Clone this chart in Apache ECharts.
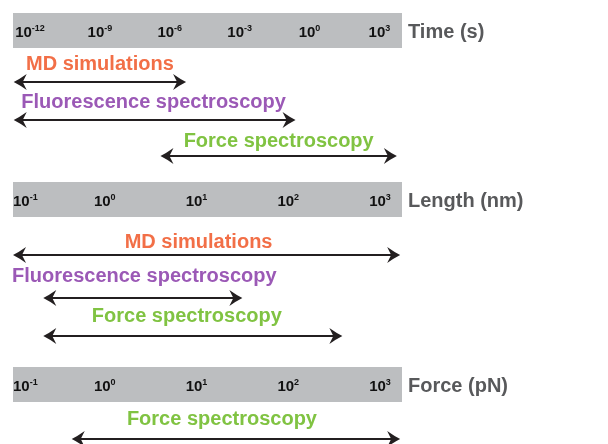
<!DOCTYPE html>
<html>
<head>
<meta charset="utf-8">
<script src="https://cdn.jsdelivr.net/npm/echarts@6/dist/echarts.min.js"></script>
<style>
  html, body { margin: 0; padding: 0; background: #fff; }
  #chart { width: 608px; height: 444px; }
</style>
</head>
<body>
<div id="chart"></div>
<script>
// Experimental techniques and the scales they reach (values are log10 of the quantity)
const methods = ['MD simulations', 'Fluorescence spectroscopy', 'Force spectroscopy'];
const methodColors = ['#f26f47', '#9b59b6', '#80c342'];

const timeTicks = [-12, -9, -6, -3, 0, 3];          // log10 s
const lengthTicks = [-1, 0, 1, 2, 3];               // log10 nm
const forceTicks = [-1, 0, 1, 2, 3];                // log10 pN

const timeRanges = [[-12.7, -5.3], [-12.7, -0.6], [-6.4, 3.75]];
const lengthRanges = [[-1, 3.22], [-0.67, 1.5], [-0.67, 2.59]];
const forceRanges = [[-0.36, 3.22]];

// Panel layout (pixel offsets below each scale bar's top edge)
const panels = [
  { name: 'Time (s)', top: 13, height: 155, min: -12.73, max: 3.97, ticks: timeTicks,
    ranges: timeRanges, methodIdx: [0, 1, 2],
    arrowY: [69, 107, 143], labelY: [51, 89, 128], labelDx: [0, -1, 0], minAlign: null },
  { name: 'Length (nm)', top: 182, height: 165, min: -1, max: 3.24, ticks: lengthTicks,
    ranges: lengthRanges, methodIdx: [0, 1, 2],
    arrowY: [73, 116, 154], labelY: [60, 94, 134], labelDx: [-8, 1.5, -6], minAlign: 'left' },
  { name: 'Force (pN)', top: 367, height: 77, min: -1, max: 3.24, ticks: forceTicks,
    ranges: forceRanges, methodIdx: [2],
    arrowY: [72], labelY: [52], labelDx: [-14], minAlign: 'left' }
];

const BAR_H = 35;
const FONT = '"Liberation Sans", Arial, Helvetica, sans-serif';
const INK = '#231f20';

function headPath(x, y, dir) {
  // barbed arrow head, tip at (x, y); dir = 1 points right, -1 points left
  const L = 13, W = 8, N = 9;
  const bx = x - dir * L, nx = x - dir * N, cx = x - dir * 6;
  return 'M' + x + ' ' + y +
    ' Q' + cx + ' ' + (y - 3) + ' ' + bx + ' ' + (y - W) +
    ' L' + nx + ' ' + y +
    ' L' + bx + ' ' + (y + W) +
    ' Q' + cx + ' ' + (y + 3) + ' ' + x + ' ' + y + ' Z';
}

function renderRange(params, api) {
  const a = api.coord([api.value(0), api.value(2)]);
  const b = api.coord([api.value(1), api.value(2)]);
  const ly = api.coord([api.value(0), api.value(3)])[1];
  const idx = api.value(5);
  const y = a[1];
  return {
    type: 'group',
    children: [
      { type: 'line', shape: { x1: a[0] + 8, y1: y, x2: b[0] - 8, y2: y },
        style: { stroke: INK, lineWidth: 2 } },
      { type: 'path', shape: { pathData: headPath(a[0], y, -1) }, style: { fill: INK } },
      { type: 'path', shape: { pathData: headPath(b[0], y, 1) }, style: { fill: INK } },
      { type: 'text', x: (a[0] + b[0]) / 2 + api.value(4), y: ly,
        style: { text: methods[idx], fill: methodColors[idx], font: 'bold 20px ' + FONT,
                 align: 'center', verticalAlign: 'middle' } }
    ]
  };
}

const grids = [], xAxes = [], yAxes = [], series = [];
panels.forEach((p, k) => {
  grids.push({ left: 13, right: 206, top: p.top, height: p.height });
  xAxes.push({
    type: 'value', gridIndex: k, position: 'top', min: p.min, max: p.max, z: 10,
    name: p.name, nameLocation: 'end', nameGap: 6, nameMoveOverlap: false,
    nameTextStyle: { fontFamily: FONT, fontSize: 20, fontWeight: 'bold', color: '#58595b',
                     align: 'left', verticalAlign: 'top', padding: [9, 0, 0, 0] },
    axisLine: { show: false }, axisTick: { show: false }, splitLine: { show: false },
    axisLabel: {
      inside: true, margin: 11, customValues: p.ticks,
      alignMinLabel: p.minAlign || undefined,
      formatter: v => '{b|10}{s|' + v + '}',
      rich: {
        b: { fontFamily: FONT, fontSize: 15, fontWeight: 'bold', color: '#111', lineHeight: 18 },
        s: { fontFamily: FONT, fontSize: 9, fontWeight: 'bold', color: '#111',
             verticalAlign: 'top', lineHeight: 10 }
      }
    }
  });
  yAxes.push({ type: 'value', gridIndex: k, min: 0, max: p.height, inverse: true, show: false });
  series.push({
    type: 'custom', xAxisIndex: k, yAxisIndex: k, clip: false, silent: true,
    renderItem: renderRange,
    data: p.ranges.map((r, i) => [r[0], r[1], p.arrowY[i], p.labelY[i], p.labelDx[i], p.methodIdx[i]]),
    markArea: {
      silent: true,
      itemStyle: { color: '#bcbec0' },
      data: [[{ yAxis: 0 }, { yAxis: BAR_H }]]
    }
  });
});

const chart = echarts.init(document.getElementById('chart'), null, { renderer: 'canvas' });
chart.setOption({
  animation: false,
  backgroundColor: '#fff',
  grid: grids, xAxis: xAxes, yAxis: yAxes, series: series
});
</script>
</body>
</html>
